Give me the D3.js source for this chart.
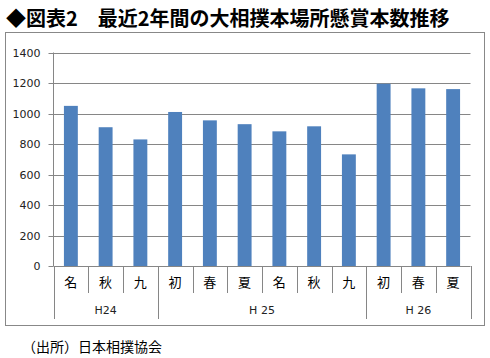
<!DOCTYPE html>
<html><head><meta charset="utf-8">
<script src="https://cdn.jsdelivr.net/npm/d3@7"></script>
<style>body{margin:0;background:#fff;}svg{display:block;}</style>
</head><body>
<script>
const categories = ["名","秋","九","初","春","夏","名","秋","九","初","春","夏"];
const values = [1050, 910, 830, 1010, 955, 930, 883, 916, 732, 1195, 1165, 1160];
const years = [{label:"H24", n:3},{label:"H 25", n:6},{label:"H 26", n:3}];
const yTicks = [0,200,400,600,800,1000,1200,1400];

const W=490,H=358;
const svg=d3.select("body").append("svg").attr("width",W).attr("height",H);
const jp="'Noto Sans CJK JP','Noto Sans',sans-serif";

svg.append("text").attr("x",6).attr("y",26).attr("font-family",jp).attr("font-size",20)
  .attr("font-weight","bold").attr("fill","#000").text("◆図表2　最近2年間の大相撲本場所懸賞本数推移");

svg.append("rect").attr("x",5.5).attr("y",32.5).attr("width",479).attr("height",293)
  .attr("fill","#fff").attr("stroke","#888").attr("stroke-width",1);

const x=d3.scaleBand().domain(d3.range(categories.length)).range([53.5,470.5]).paddingInner(0.6).paddingOuter(0.3);
const y=d3.scaleLinear().domain([0,1400]).range([266,52.5]);

// grid
svg.append("g").selectAll("line").data(yTicks.filter(d=>d>0)).join("line")
  .attr("x1",53.5).attr("x2",470.5).attr("y1",d=>Math.round(y(d))+0.5).attr("y2",d=>Math.round(y(d))+0.5)
  .attr("stroke","#868686");

// y axis
const ya=svg.append("g").attr("transform","translate(53.5,0)")
  .call(d3.axisLeft(y).tickValues(yTicks).tickSize(5).tickPadding(8).tickFormat(d3.format("d")));
ya.select(".domain").attr("stroke","#868686").attr("d","M0,52.5V266");
ya.selectAll(".tick line").attr("stroke","#868686");
ya.selectAll(".tick").attr("transform",d=>`translate(0,${Math.round(y(d))+0.5})`);
ya.selectAll("text").attr("font-family","'DejaVu Sans',sans-serif").attr("font-size",11).attr("fill","#222");

// bars
svg.append("g").selectAll("rect").data(values).join("rect")
  .attr("x",(d,i)=>x(i)).attr("width",x.bandwidth())
  .attr("y",d=>y(d)).attr("height",d=>y(0)-y(d)).attr("fill","#4F81BD");

// x axis
const step=x.step();
const x0=53.5;
svg.append("line").attr("x1",x0).attr("x2",470.5).attr("y1",266.5).attr("y2",266.5).attr("stroke","#868686");
const g=svg.append("g");
d3.range(categories.length+1).forEach(i=>{
  const xx=Math.round(x0+i*step)+0.5;
  g.append("line").attr("x1",xx).attr("x2",xx).attr("y1",266).attr("y2",293).attr("stroke","#868686");
});
g.selectAll("text.cat").data(categories).join("text").attr("class","cat")
  .attr("x",(d,i)=>x(i)+x.bandwidth()/2).attr("y",287).attr("text-anchor","middle")
  .attr("font-family",jp).attr("font-size",13).attr("fill","#000").text(d=>d);
let acc=0;
years.forEach((yr,k)=>{
  const xa=x0+acc*step, xb=x0+(acc+yr.n)*step;
  if(k===0) g.append("line").attr("x1",Math.round(xa)+0.5).attr("x2",Math.round(xa)+0.5).attr("y1",293).attr("y2",319).attr("stroke","#868686");
  g.append("line").attr("x1",Math.round(xb)+0.5).attr("x2",Math.round(xb)+0.5).attr("y1",266).attr("y2",319).attr("stroke","#868686");
  g.append("text").attr("x",(xa+xb)/2).attr("y",314).attr("text-anchor","middle")
    .attr("font-family","'DejaVu Sans',sans-serif").attr("font-size",11).attr("fill","#222").text(yr.label);
  acc+=yr.n;
});

svg.append("text").attr("x",22).attr("y",352).attr("font-family",jp).attr("font-size",14)
  .attr("fill","#000").text("（出所）日本相撲協会");
</script>
</body></html>
